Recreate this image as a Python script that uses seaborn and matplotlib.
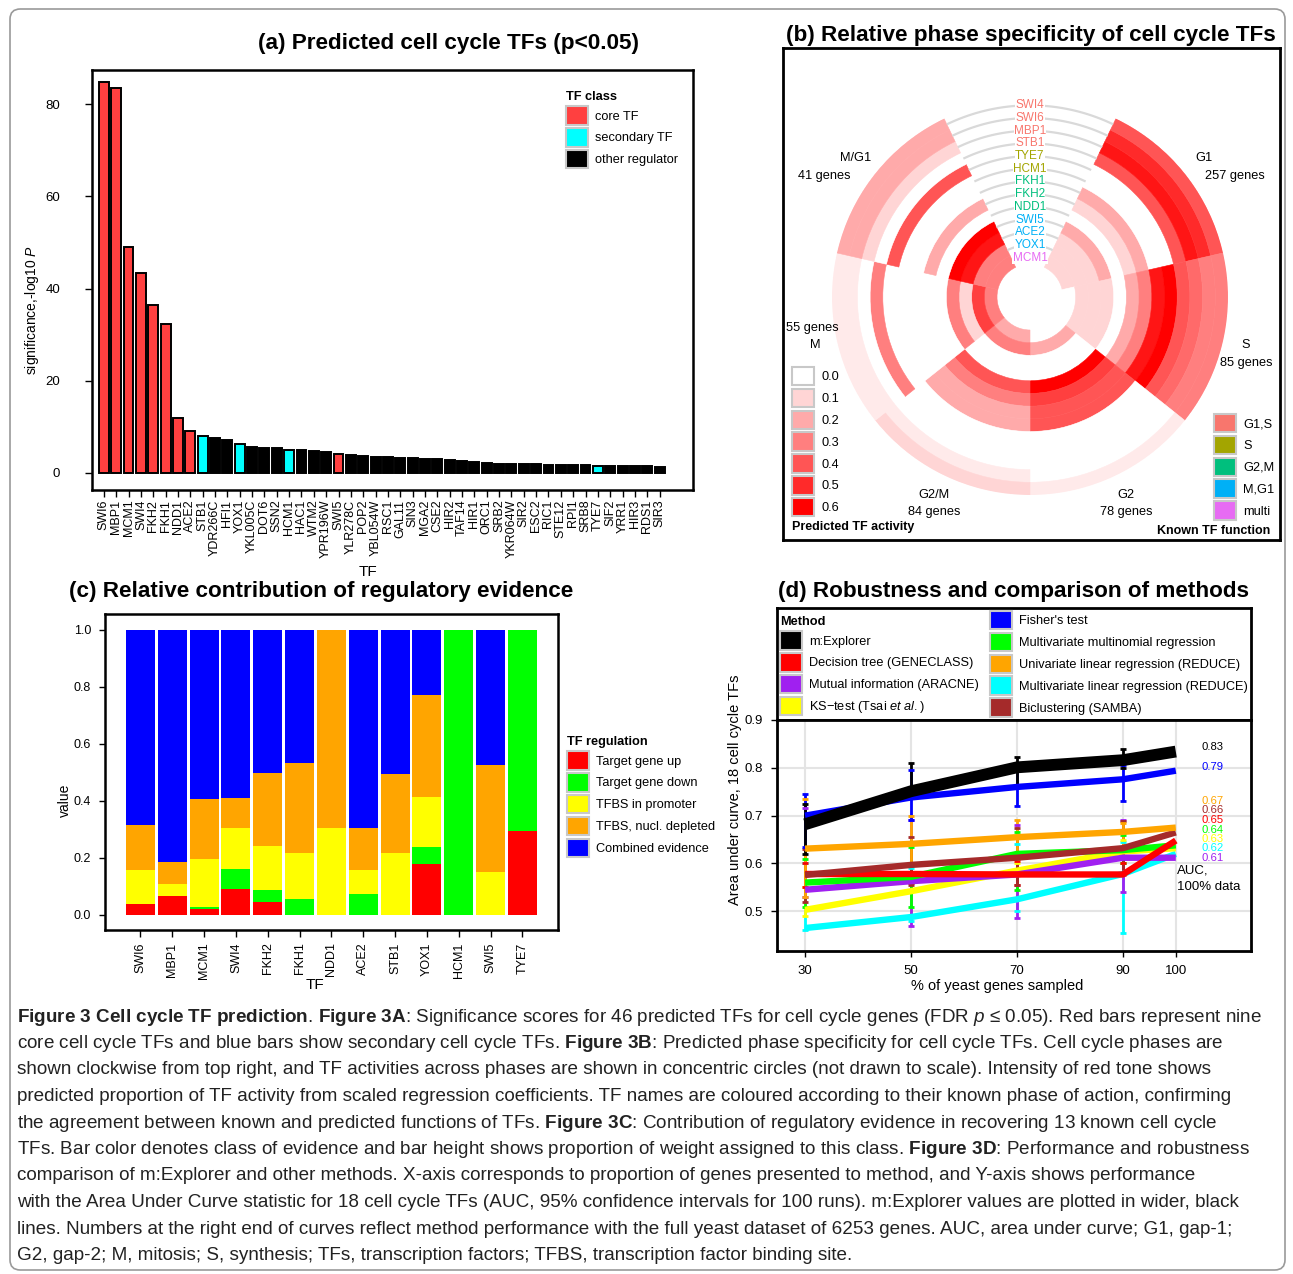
import numpy as np
import pandas as pd
import matplotlib
matplotlib.use("Agg")
import matplotlib.pyplot as plt
import seaborn as sns
from matplotlib.patches import Patch, FancyBboxPatch
from matplotlib.colors import LinearSegmentedColormap

# ======================= DATA =======================
# (a) predicted cell cycle TFs
tf_a = ["SWI6", "MBP1", "MCM1", "SWI4", "FKH2", "FKH1", "NDD1", "ACE2", "STB1", "YDR266C",
        "HFI1", "YOX1", "YKL005C", "DOT6", "SSN2", "HCM1", "HAC1", "WTM2", "YPR196W", "SWI5",
        "YLR278C", "POP2", "YBL054W", "RSC1", "GAL11", "SIN3", "MGA2", "CSE2", "HIR2", "TAF14",
        "HIR1", "ORC1", "SRB2", "YKR064W", "SIR2", "ESC2", "RIC1", "STE12", "RPI1", "SRB8",
        "TYE7", "SIF2", "YRR1", "HIR3", "RDS1", "SIR3"]
sig_a = [84.8, 83.4, 49.1, 43.3, 36.5, 32.4, 11.9, 9.1, 8.1, 7.5,
         7.1, 6.2, 5.6, 5.5, 5.5, 5.0, 5.0, 4.8, 4.6, 4.2,
         3.9, 3.7, 3.5, 3.4, 3.3, 3.2, 3.1, 3.0, 2.8, 2.5,
         2.3, 2.1, 2.0, 2.0, 1.9, 1.9, 1.8, 1.8, 1.7, 1.7,
         1.4, 1.5, 1.5, 1.4, 1.4, 1.3]
core_tfs = ["SWI6", "MBP1", "MCM1", "SWI4", "FKH2", "FKH1", "NDD1", "ACE2", "SWI5"]
secondary_tfs = ["STB1", "YOX1", "HCM1", "TYE7"]
class_order = ["core TF", "secondary TF", "other regulator"]
class_a = ["core TF" if t in core_tfs else ("secondary TF" if t in secondary_tfs else "other regulator")
           for t in tf_a]

# (b) relative phase specificity (rings listed inner -> outer)
ring_tfs = ["MCM1", "YOX1", "ACE2", "SWI5", "NDD1", "FKH2", "FKH1", "HCM1", "TYE7", "STB1", "MBP1", "SWI6", "SWI4"]
ring_function = ["multi", "M,G1", "M,G1", "M,G1", "G2,M", "G2,M", "G2,M", "S", "S", "G1,S", "G1,S", "G1,S", "G1,S"]
phases = ["G1", "S", "G2", "G2/M", "M", "M/G1"]
phase_genes = [257, 85, 78, 84, 55, 41]
act_G1 = [0.10, 0.10, 0.10, 0.20, 0.00, 0.10, 0.20, 0.00, 0.00, 0.40, 0.55, 0.50, 0.40]
act_S = [0.00, 0.10, 0.10, 0.10, 0.00, 0.20, 0.30, 0.55, 0.60, 0.40, 0.35, 0.30, 0.30]
act_G2 = [0.00, 0.20, 0.00, 0.00, 0.60, 0.45, 0.40, 0.40, 0.00, 0.00, 0.00, 0.00, 0.05]
act_G2M = [0.20, 0.30, 0.00, 0.00, 0.40, 0.30, 0.20, 0.20, 0.00, 0.00, 0.00, 0.05, 0.10]
act_M = [0.30, 0.45, 0.10, 0.30, 0.00, 0.00, 0.00, 0.00, 0.00, 0.30, 0.00, 0.05, 0.05]
act_MG1 = [0.30, 0.30, 0.55, 0.60, 0.00, 0.20, 0.00, 0.00, 0.40, 0.00, 0.10, 0.20, 0.20]
activity_levels = [0.0, 0.1, 0.2, 0.3, 0.4, 0.5, 0.6]
function_levels = ["G1,S", "S", "G2,M", "M,G1", "multi"]

# (c) relative contribution of regulatory evidence
tf_c = ["SWI6", "MBP1", "MCM1", "SWI4", "FKH2", "FKH1", "NDD1", "ACE2", "STB1", "YOX1", "HCM1", "SWI5", "TYE7"]
evidence_classes = ["Target gene up", "Target gene down", "TFBS in promoter", "TFBS, nucl. depleted", "Combined evidence"]
target_up = [0.040, 0.068, 0.020, 0.090, 0.044, 0.000, 0.000, 0.000, 0.000, 0.178, 0.000, 0.000, 0.295]
target_down = [0.000, 0.000, 0.007, 0.070, 0.044, 0.056, 0.000, 0.074, 0.000, 0.059, 1.000, 0.000, 0.705]
tfbs_promoter = [0.117, 0.041, 0.168, 0.144, 0.154, 0.160, 0.304, 0.084, 0.216, 0.178, 0.000, 0.149, 0.000]
tfbs_nucl = [0.158, 0.078, 0.211, 0.108, 0.257, 0.318, 0.696, 0.147, 0.279, 0.358, 0.000, 0.377, 0.000]
combined = [0.685, 0.813, 0.594, 0.588, 0.501, 0.466, 0.000, 0.695, 0.505, 0.227, 0.000, 0.474, 0.000]

# (d) robustness and comparison of methods
pct = [30, 50, 70, 90, 100]
auc_mexplorer = [0.682, 0.751, 0.801, 0.816, 0.834]
auc_fisher = [0.700, 0.738, 0.760, 0.776, 0.794]
auc_univariate = [0.631, 0.641, 0.655, 0.666, 0.675]
auc_biclust = [0.576, 0.597, 0.612, 0.632, 0.665]
auc_dtree = [0.578, 0.578, 0.577, 0.577, 0.648]
auc_multinom = [0.560, 0.572, 0.620, 0.628, 0.638]
auc_mutinfo = [0.545, 0.563, 0.577, 0.612, 0.612]
auc_ks = [0.503, 0.542, 0.585, 0.625, 0.632]
auc_multilin = [0.465, 0.488, 0.525, 0.578, 0.620]
ci_lo = {"mex": [0.620, 0.740, 0.760, 0.800], "fis": [0.635, 0.690, 0.720, 0.730],
         "uni": [0.530, 0.600, 0.610, 0.630], "bic": [0.520, 0.555, 0.555, 0.577],
         "dtr": [0.550, 0.560, 0.555, 0.575], "mmr": [0.510, 0.510, 0.545, 0.600],
         "mut": [0.530, 0.470, 0.485, 0.540], "ks": [0.490, 0.490, 0.525, 0.600],
         "mlr": [0.460, 0.480, 0.500, 0.455]}
ci_hi = {"mex": [0.725, 0.810, 0.822, 0.840], "fis": [0.745, 0.795, 0.805, 0.805],
         "uni": [0.735, 0.700, 0.690, 0.685], "bic": [0.630, 0.655, 0.675, 0.688],
         "dtr": [0.600, 0.600, 0.605, 0.600], "mmr": [0.610, 0.635, 0.665, 0.660],
         "mut": [0.715, 0.690, 0.680, 0.690], "ks": [0.550, 0.600, 0.600, 0.650],
         "mlr": [0.600, 0.590, 0.640, 0.645]}
full_auc_labels = ["0.83", "0.79", "0.67", "0.66", "0.65", "0.64", "0.63", "0.62", "0.61"]

# ======================= STYLE =======================
sns.set_theme(style="white")
plt.rcParams.update({
    "font.family": ["Liberation Sans", "DejaVu Sans"],
    "mathtext.fontset": "custom",
    "mathtext.rm": "Liberation Sans",
    "mathtext.it": "Liberation Sans:italic",
    "mathtext.bf": "Liberation Sans:bold",
    "axes.edgecolor": "black",
    "axes.linewidth": 1.8,
    "xtick.color": "black", "ytick.color": "black",
    "xtick.bottom": True, "ytick.left": True,
    "xtick.direction": "out", "ytick.direction": "out",
    "lines.solid_capstyle": "butt",
    "axes.unicode_minus": False,
    "text.color": "black",
})

W, H = 1293, 1274
fig = plt.figure(figsize=(W / 100, H / 100), dpi=100)
fig.patch.set_facecolor("white")


def rect(l, t, r, b):
    return [l / W, 1 - b / H, (r - l) / W, (b - t) / H]


def fx(x):
    return x / W


def fy(y):
    return 1 - y / H


def frame(ax, lw=1.8):
    for s in ax.spines.values():
        s.set_visible(True)
        s.set_color("black")
        s.set_linewidth(lw)


# outer rounded border
fig.patches.append(FancyBboxPatch((fx(10), fy(1270)), 1275 / W, 1261 / H,
                                  boxstyle="round,pad=0,rounding_size=0.008",
                                  transform=fig.transFigure, fill=False,
                                  edgecolor="#9a9a9a", linewidth=1.2))

TITLE_FS = 16.2
LEG_FS = 9.2
LEG_KW = dict(frameon=False, bbox_transform=fig.transFigure, handlelength=1.75, handleheight=1.85,
              labelspacing=0.26, handletextpad=0.55, borderpad=0, borderaxespad=0)

# ======================= (a) =======================
class_colors = {"core TF": "#FF4040", "secondary TF": "#00FFFF", "other regulator": "#000000"}
ax_a = fig.add_axes(rect(92, 70, 693, 490))
df_a = pd.DataFrame({"TF": tf_a, "significance": sig_a, "TF class": class_a})
sns.barplot(data=df_a, x="TF", y="significance", hue="TF class", hue_order=class_order,
            palette=class_colors, order=tf_a, dodge=False, width=0.8, saturation=1,
            edgecolor="black", linewidth=1.4, legend=False, ax=ax_a)
frame(ax_a)
ax_a.set_xlim(-0.96, 47.7)
ax_a.set_ylim(-3.7, 87.4)
ax_a.set_yticks([0, 20, 40, 60, 80])
ax_a.tick_params(axis="y", labelsize=9.5, length=5, width=1, pad=18)
ax_a.tick_params(axis="x", labelsize=9, length=5, width=1, pad=2, labelrotation=90)
ax_a.set_xlabel("")
ax_a.set_ylabel("")
fig.text(fx(368), fy(572), "TF", ha="center", va="center", fontsize=11)
fig.text(fx(32), fy(310), "significance,-log10 $P$", rotation=90, ha="center", va="center", fontsize=10)
fig.text(fx(449), fy(43), "(a) Predicted cell cycle TFs (p<0.05)", ha="center", va="center",
         fontsize=TITLE_FS, fontweight="bold")
h_a = [Patch(facecolor=class_colors[c], edgecolor="#c8c8c8", linewidth=1.5) for c in class_order]
ax_a.legend(h_a, class_order, title="TF class", loc="upper left", bbox_to_anchor=(fx(566), fy(91)),
            fontsize=LEG_FS, title_fontproperties={"weight": "bold", "size": LEG_FS},
            alignment="left", **LEG_KW)

# ======================= (b) =======================
cmap_b = LinearSegmentedColormap.from_list("white_red", ["#FFFFFF", "#FF0000"])
func_colors = {"G1,S": "#F8766D", "S": "#A3A500", "G2,M": "#00BF7D", "M,G1": "#00B0F6", "multi": "#E76BF3"}
activity = {"G1": act_G1, "S": act_S, "G2": act_G2, "G2/M": act_G2M, "M": act_M, "M/G1": act_MG1}

ax_bf = fig.add_axes(rect(783, 48, 1280, 540))
ax_bf.set_xticks([])
ax_bf.set_yticks([])
frame(ax_bf, 2.0)
fig.text(fx(1031), fy(35), "(b) Relative phase specificity of cell cycle TFs", ha="center", va="center",
         fontsize=TITLE_FS, fontweight="bold")

cx, cy, R = 1030, 297, 198
axp = fig.add_axes(rect(cx - R, cy - R, cx + R, cy + R), projection="polar")
axp.set_theta_zero_location("N")
axp.set_theta_direction(-1)
R0 = 2.6
n_ring = len(ring_tfs)
axp.set_ylim(0, R0 + n_ring)
sector = 2 * np.pi / 7
for j, ph in enumerate(phases):
    th = sector * (j + 1)
    vals = activity[ph]
    for k in range(n_ring):
        col = cmap_b(vals[k] / 0.6)
        axp.bar(th, 1.0, width=sector, bottom=R0 + k, color=col, edgecolor=col, linewidth=0.4)
arc = np.linspace(-sector / 2, sector / 2, 120)
for k, tf in enumerate(ring_tfs):
    axp.plot(arc, np.full_like(arc, R0 + k + 0.5), color="#d9d9d9", linewidth=1.6)
    axp.text(0, R0 + k + 0.5, tf, color=func_colors[ring_function[k]], ha="center", va="center",
             fontsize=8.5, bbox=dict(facecolor="white", edgecolor="none", pad=0.2))
axp.set_axis_off()

phase_text = [("M/G1", 856, 158), ("41 genes", 824, 176), ("G1", 1204, 158), ("257 genes", 1235, 176),
              ("55 genes", 812, 328), ("M", 815, 345), ("S", 1246, 345), ("85 genes", 1246, 363),
              ("G2/M", 934, 495), ("84 genes", 934, 512), ("G2", 1126, 495), ("78 genes", 1126, 512)]
for s, x, y in phase_text:
    fig.text(fx(x), fy(y), s, ha="center", va="center", fontsize=9.2)

h_act = [Patch(facecolor=cmap_b(v / 0.6), edgecolor="#c8c8c8", linewidth=1.5) for v in activity_levels]
leg1 = ax_bf.legend(h_act, [f"{v:.1f}" for v in activity_levels], loc="upper left",
                    bbox_to_anchor=(fx(792), fy(367)), fontsize=LEG_FS, **LEG_KW)
ax_bf.add_artist(leg1)
h_fun = [Patch(facecolor=func_colors[f], edgecolor="#c8c8c8", linewidth=1.5) for f in function_levels]
ax_bf.legend(h_fun, function_levels, loc="upper left", bbox_to_anchor=(fx(1214), fy(414)),
             fontsize=LEG_FS, **LEG_KW)
fig.text(fx(792), fy(527), "Predicted TF activity", ha="left", va="center", fontsize=9, fontweight="bold")
fig.text(fx(1270), fy(531), "Known TF function", ha="right", va="center", fontsize=9, fontweight="bold")

# ======================= (c) =======================
evidence_colors = {"Target gene up": "#FF0000", "Target gene down": "#00FF00", "TFBS in promoter": "#FFFF00",
                   "TFBS, nucl. depleted": "#FFA500", "Combined evidence": "#0000FF"}
ax_c = fig.add_axes(rect(105, 614, 558, 930))
layers = [target_up, target_down, tfbs_promoter, tfbs_nucl, combined]
xc = np.arange(len(tf_c))
bottom = np.zeros(len(tf_c))
for name, vals in zip(evidence_classes, layers):
    ax_c.bar(xc, vals, bottom=bottom, width=0.91, color=evidence_colors[name], linewidth=0)
    bottom = bottom + np.array(vals)
frame(ax_c)
ax_c.set_xlim(-1.115, 13.12)
ax_c.set_ylim(-0.053, 1.056)
ax_c.set_xticks(xc)
ax_c.set_xticklabels(tf_c)
ax_c.set_yticks([0, 0.2, 0.4, 0.6, 0.8, 1.0])
ax_c.set_yticklabels(["0.0", "0.2", "0.4", "0.6", "0.8", "1.0"])
ax_c.tick_params(axis="x", labelsize=9, length=5, width=1, pad=4, labelrotation=90)
ax_c.tick_params(axis="y", labelsize=9, length=4, width=1, pad=6)
fig.text(fx(315), fy(985), "TF", ha="center", va="center", fontsize=11)
fig.text(fx(65), fy(800), "value", rotation=90, ha="center", va="center", fontsize=10)
fig.text(fx(321), fy(592), "(c) Relative contribution of regulatory evidence", ha="center", va="center",
         fontsize=TITLE_FS, fontweight="bold")
h_c = [Patch(facecolor=evidence_colors[c], edgecolor="#c8c8c8", linewidth=1.5) for c in evidence_classes]
ax_c.legend(h_c, evidence_classes, title="TF regulation", loc="upper left",
            bbox_to_anchor=(fx(567), fy(736)), fontsize=LEG_FS,
            title_fontproperties={"weight": "bold", "size": LEG_FS}, alignment="left", **LEG_KW)

# ======================= (d) =======================
method_keys = ["mlr", "ks", "mut", "mmr", "dtr", "bic", "uni", "fis", "mex"]  # draw order
method_names = {"mex": "m:Explorer", "dtr": "Decision tree (GENECLASS)", "mut": "Mutual information (ARACNE)",
                "ks": "KS\u2212test (Tsai $et\\ al.$)", "fis": "Fisher's test",
                "mmr": "Multivariate multinomial regression", "uni": "Univariate linear regression (REDUCE)",
                "mlr": "Multivariate linear regression (REDUCE)", "bic": "Biclustering (SAMBA)"}
method_colors = {"mex": "#000000", "dtr": "#FF0000", "mut": "#A020F0", "ks": "#FFFF00", "fis": "#0000FF",
                 "mmr": "#00FF00", "uni": "#FFA500", "mlr": "#00FFFF", "bic": "#A52A2A"}
auc = {"mex": auc_mexplorer, "fis": auc_fisher, "uni": auc_univariate, "bic": auc_biclust,
       "dtr": auc_dtree, "mmr": auc_multinom, "mut": auc_mutinfo, "ks": auc_ks, "mlr": auc_multilin}

ax_dl = fig.add_axes(rect(777, 608, 1251, 720))
ax_dl.set_xticks([])
ax_dl.set_yticks([])
frame(ax_dl, 2.0)
ax_d = fig.add_axes(rect(777, 720, 1251, 951))
frame(ax_d, 2.0)
ax_d.set_axisbelow(True)
ax_d.grid(True, color="#e4e4e4", linewidth=1.5)

for key in method_keys:
    lo = np.array(ci_lo[key])
    hi = np.array(ci_hi[key])
    ax_d.errorbar(pct[:4], (lo + hi) / 2, yerr=(hi - lo) / 2, fmt="none", ecolor=method_colors[key],
                  elinewidth=2, capsize=2.5, capthick=2, zorder=1.8)

rows = []
for key in method_keys:
    for p, v in zip(pct, auc[key]):
        rows.append({"pct": p, "auc": v, "method": key})
df_d = pd.DataFrame(rows)
lw_map = {k: (8.5 if k == "mex" else 4.6) for k in method_keys}
sns.lineplot(data=df_d, x="pct", y="auc", hue="method", hue_order=method_keys, palette=method_colors,
             size="method", size_order=method_keys, sizes=lw_map, legend=False, errorbar=None, ax=ax_d)
for i, ln in enumerate(ax_d.lines):
    ln.set_zorder(2 + i * 0.01)
    ln.set_solid_capstyle("butt")

ax_d.set_xlim(24.7, 114.2)
ax_d.set_ylim(0.417, 0.9)
ax_d.set_xticks(pct)
ax_d.set_yticks([0.5, 0.6, 0.7, 0.8, 0.9])
ax_d.set_yticklabels(["0.5", "0.6", "0.7", "0.8", "0.9"])
ax_d.tick_params(axis="both", labelsize=9.5, length=4, width=1, pad=6)
ax_d.set_xlabel("")
ax_d.set_ylabel("")
label_y = [0.843, 0.801, 0.731, 0.711, 0.691, 0.671, 0.652, 0.632, 0.612]
label_keys = ["mex", "fis", "uni", "bic", "dtr", "mmr", "ks", "mlr", "mut"]
for s, y, k in zip(full_auc_labels, label_y, label_keys):
    ax_d.text(107, y, s, color=method_colors[k], fontsize=8.1, ha="center", va="center", clip_on=False)
ax_d.text(100.3, 0.586, "AUC,", fontsize=9.5, ha="left", va="center")
ax_d.text(100.3, 0.551, "100% data", fontsize=9.5, ha="left", va="center")
fig.text(fx(997), fy(986), "% of yeast genes sampled", ha="center", va="center", fontsize=10.5)
fig.text(fx(735), fy(790), "Area under curve, 18 cell cycle TFs", rotation=90, ha="center", va="center",
         fontsize=10.5)
fig.text(fx(1014), fy(592), "(d) Robustness and comparison of methods", ha="center", va="center",
         fontsize=TITLE_FS, fontweight="bold")

left_keys = ["mex", "dtr", "mut", "ks"]
right_keys = ["fis", "mmr", "uni", "mlr", "bic"]
h_l = [Patch(facecolor=method_colors[k], edgecolor="#c8c8c8", linewidth=1.5) for k in left_keys]
h_r = [Patch(facecolor=method_colors[k], edgecolor="#c8c8c8", linewidth=1.5) for k in right_keys]
legL = ax_dl.legend(h_l, [method_names[k] for k in left_keys], title="Method", loc="upper left",
                    bbox_to_anchor=(fx(780), fy(616)), fontsize=LEG_FS,
                    title_fontproperties={"weight": "bold", "size": LEG_FS}, alignment="left", **LEG_KW)
ax_dl.add_artist(legL)
ax_dl.legend(h_r, [method_names[k] for k in right_keys], loc="upper left",
             bbox_to_anchor=(fx(990), fy(611)), fontsize=LEG_FS, **LEG_KW)

# ======================= caption =======================
caption = [
    "$\\mathbf{Figure\\ 3\\ Cell\\ cycle\\ TF\\ prediction}$. $\\mathbf{Figure\\ 3A}$: Significance scores for 46 predicted TFs for cell cycle genes (FDR $\\mathit{p}$ \u2264 0.05). Red bars represent nine",
    "core cell cycle TFs and blue bars show secondary cell cycle TFs. $\\mathbf{Figure\\ 3B}$: Predicted phase specificity for cell cycle TFs. Cell cycle phases are",
    "shown clockwise from top right, and TF activities across phases are shown in concentric circles (not drawn to scale). Intensity of red tone shows",
    "predicted proportion of TF activity from scaled regression coefficients. TF names are coloured according to their known phase of action, confirming",
    "the agreement between known and predicted functions of TFs. $\\mathbf{Figure\\ 3C}$: Contribution of regulatory evidence in recovering 13 known cell cycle",
    "TFs. Bar color denotes class of evidence and bar height shows proportion of weight assigned to this class. $\\mathbf{Figure\\ 3D}$: Performance and robustness",
    "comparison of m:Explorer and other methods. X-axis corresponds to proportion of genes presented to method, and Y-axis shows performance",
    "with the Area Under Curve statistic for 18 cell cycle TFs (AUC, 95% confidence intervals for 100 runs). m:Explorer values are plotted in wider, black",
    "lines. Numbers at the right end of curves reflect method performance with the full yeast dataset of 6253 genes. AUC, area under curve; G1, gap-1;",
    "G2, gap-2; M, mitosis; S, synthesis; TFs, transcription factors; TFBS, transcription factor binding site.",
]
for i, line in enumerate(caption):
    fig.text(fx(17), fy(1017 + 26.5 * i), line, ha="left", va="center", fontsize=13.6, color="#222222")

fig.savefig("out.png", dpi=100)
